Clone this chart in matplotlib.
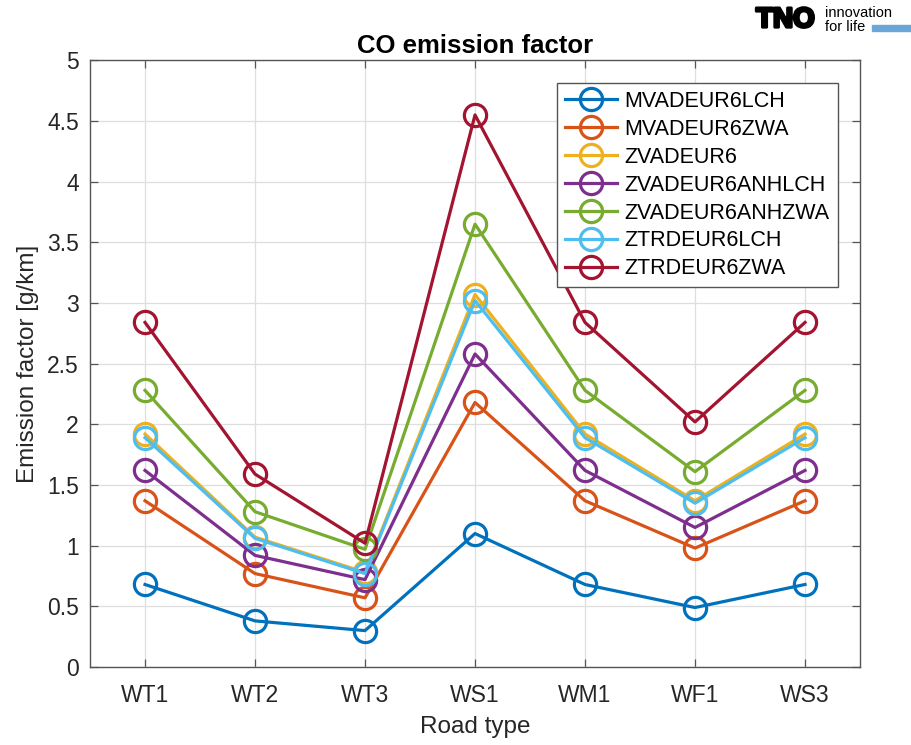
import matplotlib
matplotlib.use('Agg')
import matplotlib.pyplot as plt
import matplotlib.patheffects as pe

plt.rcParams['font.family'] = ['Liberation Sans', 'DejaVu Sans']

road_types = ['WT1', 'WT2', 'WT3', 'WS1', 'WM1', 'WF1', 'WS3']

# CO emission factors [g/km] per vehicle class
mvadeur6lch = [0.68, 0.38, 0.30, 1.10, 0.68, 0.49, 0.68]
mvadeur6zwa = [1.37, 0.77, 0.57, 2.18, 1.37, 0.98, 1.37]
zvadeur6 = [1.92, 1.07, 0.78, 3.07, 1.92, 1.37, 1.92]
zvadeur6anhlch = [1.62, 0.92, 0.72, 2.58, 1.62, 1.15, 1.62]
zvadeur6anhzwa = [2.28, 1.28, 0.97, 3.65, 2.28, 1.61, 2.28]
ztrdeur6lch = [1.89, 1.06, 0.77, 3.02, 1.89, 1.35, 1.89]
ztrdeur6zwa = [2.84, 1.59, 1.02, 4.55, 2.84, 2.02, 2.84]

series = [
    ('MVADEUR6LCH', mvadeur6lch, '#0072BD'),
    ('MVADEUR6ZWA', mvadeur6zwa, '#D95319'),
    ('ZVADEUR6', zvadeur6, '#EDB120'),
    ('ZVADEUR6ANHLCH', zvadeur6anhlch, '#7E2F8E'),
    ('ZVADEUR6ANHZWA', zvadeur6anhzwa, '#77AC30'),
    ('ZTRDEUR6LCH', ztrdeur6lch, '#4DBEEE'),
    ('ZTRDEUR6ZWA', ztrdeur6zwa, '#A2142F'),
]

fig = plt.figure(figsize=(9.12, 7.45), dpi=100)
ax = fig.add_axes([0.0987, 0.1047, 0.8443, 0.8143])

x = range(len(road_types))
for name, vals, color in series:
    ax.plot(x, vals, '-o', color=color, linewidth=2.3, markersize=16,
            markerfacecolor='none', markeredgewidth=2.3, label=name)

ax.set_xlim(-0.5, len(road_types) - 0.5)
ax.set_ylim(0, 5)
ax.set_xticks(list(x))
ax.set_xticklabels(road_types)
ax.set_yticks([0, 0.5, 1, 1.5, 2, 2.5, 3, 3.5, 4, 4.5, 5])
ax.set_yticklabels(['0', '0.5', '1', '1.5', '2', '2.5', '3', '3.5', '4', '4.5', '5'])
ax.tick_params(labelsize=16.5, colors='#555555', labelcolor='#262626', direction='in',
               length=6, width=0.9, top=True, right=True)
ax.tick_params(axis='x', pad=12)
ax.tick_params(axis='y', pad=8)
ax.grid(True, color='#dedede', linewidth=0.9)
ax.set_axisbelow(True)
for s in ax.spines.values():
    s.set_color('#555555')
    s.set_linewidth(1.0)

ax.set_xlabel('Road type', fontsize=17.5, color='#262626', labelpad=7)
ax.set_ylabel('Emission factor [g/km]', fontsize=17.5, color='#262626', labelpad=6)
ax.set_title('CO emission factor', fontsize=18.5, fontweight='bold', pad=5)

leg = ax.legend(loc='upper right', bbox_to_anchor=(0.971, 0.963), fontsize=15.5,
                frameon=True, fancybox=False, edgecolor='#555555', framealpha=1,
                handlelength=2.4, handletextpad=0.35, borderpad=0.38,
                labelspacing=0.32, borderaxespad=0)
leg.get_frame().set_linewidth(1.0)

# TNO logo in the top right corner
fig.text(0.829, 0.973, 'TNO', fontsize=20, fontweight='bold', ha='left', va='center',
         color='black', path_effects=[pe.withStroke(linewidth=2.2, foreground='black')])
fig.text(0.905, 0.983, 'innovation', fontsize=10.5, ha='left', va='center')
fig.text(0.905, 0.964, 'for life', fontsize=10.5, ha='left', va='center')
fig.patches.append(plt.Rectangle((0.956, 0.959), 0.044, 0.008, transform=fig.transFigure,
                                 color='#6aa7d8', figure=fig))

fig.savefig('out.png', dpi=100)
